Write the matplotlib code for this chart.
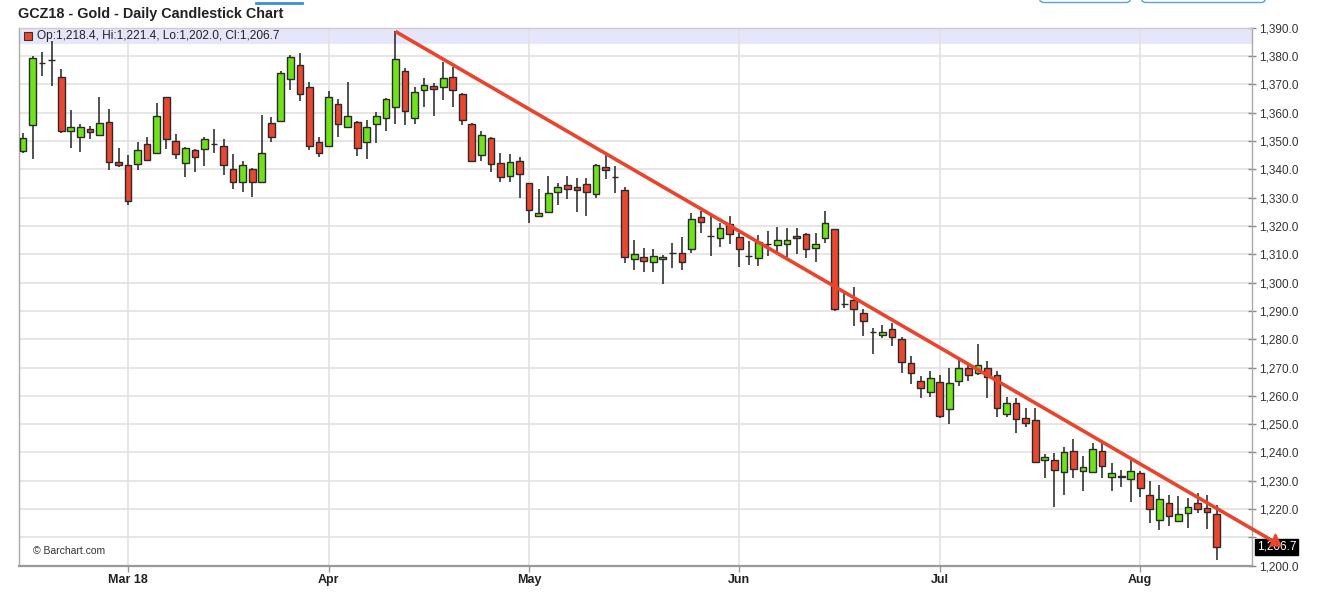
import matplotlib
matplotlib.use('Agg')
import matplotlib.pyplot as plt
from matplotlib.ticker import FixedLocator, FuncFormatter
from matplotlib.lines import Line2D
from matplotlib.patches import Rectangle, Polygon
from matplotlib.transforms import blended_transform_factory

plt.rcParams['font.family'] = ['Liberation Sans', 'DejaVu Sans']

title = "GCZ18 - Gold - Daily Candlestick Chart"
legend_text = "Op:1,218.4, Hi:1,221.4, Lo:1,202.0, Cl:1,206.7"
last_price_label = "1,206.7"
last_price = 1206.7

month_labels = ["Mar 18", "Apr", "May", "Jun", "Jul", "Aug"]
month_starts = [11, 32, 53, 75, 96, 117]

opens = [1346.5, 1355.5, 1377.5, 1378.6, 1372.6, 1353.6, 1351.3, 1354.2, 1352.0, 1356.8,
         1342.5, 1341.5, 1341.8, 1348.9, 1345.7, 1365.5, 1350.1, 1342.2, 1346.9, 1347.3,
         1349.0, 1348.4, 1340.2, 1335.4, 1340.2, 1335.4, 1356.3, 1357.1, 1371.9, 1376.9,
         1369.0, 1349.6, 1348.4, 1363.1, 1354.8, 1356.9, 1349.6, 1356.0, 1358.3, 1361.9,
         1374.9, 1358.3, 1367.9, 1369.3, 1369.0, 1372.6, 1366.7, 1356.0, 1345.1, 1351.0,
         1342.2, 1337.8, 1343.0, 1335.1, 1323.6, 1325.1, 1331.9, 1334.5, 1333.6, 1334.8,
         1331.2, 1340.8, 1337.2, 1332.7, 1308.2, 1308.9, 1307.4, 1308.2, 1310.4, 1310.6,
         1311.8, 1323.0, 1316.5, 1315.7, 1320.6, 1316.0, 1309.4, 1308.6, 1313.5, 1313.3,
         1313.7, 1316.5, 1317.2, 1312.1, 1315.7, 1318.8, 1292.5, 1293.9, 1289.2, 1282.4,
         1281.5, 1283.7, 1280.1, 1271.5, 1265.4, 1261.2, 1265.0, 1255.3, 1265.1, 1269.8,
         1268.0, 1269.8, 1267.2, 1253.6, 1257.6, 1252.1, 1251.3, 1237.4, 1237.4, 1233.2,
         1240.6, 1233.5, 1233.2, 1240.6, 1231.2, 1231.5, 1230.5, 1232.9, 1224.8, 1216.1,
         1222.0, 1215.8, 1218.5, 1222.0, 1220.3, 1218.4]
highs = [1352.8, 1379.9, 1381.3, 1385.5, 1375.4, 1360.8, 1356.1, 1355.4, 1365.5, 1361.3,
         1347.5, 1345.0, 1349.8, 1351.6, 1363.4, 1365.7, 1352.4, 1347.9, 1347.1, 1351.6,
         1354.2, 1350.8, 1345.4, 1343.0, 1340.5, 1359.3, 1358.4, 1374.9, 1380.5, 1381.0,
         1371.0, 1351.3, 1367.5, 1364.8, 1370.7, 1357.0, 1357.5, 1360.1, 1365.1, 1388.7,
         1375.8, 1369.0, 1372.2, 1370.5, 1377.8, 1376.1, 1366.9, 1356.2, 1353.4, 1351.4,
         1345.7, 1345.4, 1344.5, 1335.2, 1333.1, 1337.7, 1335.1, 1337.8, 1337.1, 1337.1,
         1341.8, 1345.1, 1341.2, 1333.7, 1315.1, 1312.1, 1311.8, 1309.8, 1314.1, 1316.2,
         1324.5, 1325.3, 1323.5, 1321.2, 1323.5, 1317.4, 1314.7, 1316.8, 1318.2, 1319.8,
         1319.2, 1319.2, 1317.4, 1317.4, 1325.3, 1319.0, 1296.2, 1298.4, 1290.6, 1284.1,
         1285.1, 1285.7, 1280.9, 1273.9, 1267.0, 1268.6, 1267.2, 1270.0, 1272.7, 1271.0,
         1278.3, 1272.4, 1268.6, 1259.5, 1259.2, 1255.6, 1255.6, 1239.5, 1239.7, 1241.8,
         1244.7, 1238.8, 1243.5, 1243.5, 1236.4, 1233.8, 1237.4, 1233.6, 1230.0, 1228.5,
         1225.0, 1224.7, 1223.8, 1225.6, 1225.0, 1221.4]
lows = [1345.9, 1343.7, 1372.8, 1369.6, 1353.0, 1347.5, 1346.0, 1350.7, 1351.8, 1339.6,
        1340.8, 1327.5, 1339.6, 1342.8, 1345.5, 1347.1, 1343.6, 1337.2, 1338.9, 1341.2,
        1345.7, 1338.1, 1333.0, 1331.9, 1330.2, 1335.2, 1349.5, 1357.0, 1367.9, 1364.2,
        1346.9, 1344.3, 1348.2, 1351.6, 1354.6, 1344.8, 1343.6, 1349.3, 1353.4, 1356.1,
        1355.5, 1356.0, 1362.2, 1359.0, 1364.6, 1362.2, 1355.7, 1342.5, 1343.1, 1338.9,
        1335.4, 1335.4, 1329.8, 1321.2, 1323.5, 1325.0, 1327.5, 1329.5, 1325.1, 1323.6,
        1329.8, 1336.5, 1331.8, 1306.8, 1304.5, 1303.6, 1303.6, 1299.4, 1305.3, 1304.5,
        1310.6, 1317.4, 1309.5, 1312.7, 1313.5, 1305.6, 1306.2, 1306.0, 1309.5, 1310.9,
        1309.2, 1310.0, 1308.6, 1307.1, 1313.9, 1290.0, 1291.2, 1284.7, 1281.2, 1274.8,
        1280.4, 1277.6, 1268.2, 1264.2, 1259.1, 1259.5, 1252.1, 1250.0, 1263.5, 1265.1,
        1267.4, 1259.2, 1252.7, 1252.4, 1246.8, 1248.9, 1236.4, 1230.9, 1220.6, 1225.0,
        1230.9, 1226.5, 1232.9, 1231.1, 1226.4, 1227.7, 1222.6, 1224.4, 1215.2, 1212.6,
        1214.0, 1215.3, 1213.2, 1218.5, 1212.8, 1202.0]
closes = [1351.2, 1379.3, 1377.5, 1378.6, 1353.7, 1354.9, 1355.1, 1353.1, 1356.4, 1342.5,
          1341.7, 1328.7, 1346.9, 1343.4, 1358.8, 1350.8, 1345.4, 1347.7, 1344.5, 1350.8,
          1349.0, 1341.4, 1335.7, 1341.4, 1335.4, 1345.7, 1351.6, 1374.2, 1379.6, 1366.7,
          1348.4, 1345.7, 1365.5, 1356.0, 1358.7, 1347.4, 1354.8, 1358.7, 1364.8, 1378.9,
          1360.7, 1367.2, 1369.9, 1368.3, 1372.2, 1367.9, 1357.3, 1343.0, 1352.0, 1341.8,
          1337.2, 1342.5, 1338.3, 1325.7, 1324.5, 1331.6, 1333.6, 1333.1, 1332.8, 1331.9,
          1341.6, 1339.8, 1337.2, 1308.9, 1310.1, 1307.8, 1309.4, 1308.9, 1310.4, 1307.4,
          1322.4, 1321.5, 1316.5, 1319.2, 1317.1, 1311.8, 1309.4, 1314.5, 1313.5, 1315.1,
          1315.1, 1315.7, 1311.8, 1313.7, 1321.0, 1290.7, 1292.5, 1290.7, 1286.5, 1282.4,
          1282.5, 1280.9, 1271.9, 1268.0, 1262.7, 1266.2, 1252.9, 1264.7, 1269.8, 1267.2,
          1271.0, 1266.5, 1255.6, 1257.6, 1251.7, 1250.3, 1236.8, 1238.3, 1233.8, 1240.3,
          1234.2, 1234.8, 1241.1, 1235.2, 1232.9, 1231.5, 1233.6, 1227.6, 1220.0, 1223.4,
          1217.7, 1218.2, 1220.9, 1219.9, 1219.1, 1206.7]

trend_x = [39, 131.0]
trend_y = [1388.7, 1208.5]
arrow_head_x = [131.16, 130.58, 131.74]
arrow_head_y = [1211.2, 1206.96, 1206.96]

W, H = 1330, 598
fig = plt.figure(figsize=(W / 100, H / 100), dpi=100)
ax_l, ax_r, ax_t, ax_b = 19, 1252, 27.8, 565.7
ax = fig.add_axes([ax_l / W, 1 - ax_b / H, (ax_r - ax_l) / W, (ax_b - ax_t) / H])

GREEN = '#6FE21C'
RED = '#E9472F'
EDGE = '#2a2a2a'
TREND = '#E8452C'

n = len(opens)
xs = list(range(n))
ax.vlines(xs, lows, highs, color='#333333', lw=1.2, zorder=2)
bottoms = [min(o, c) for o, c in zip(opens, closes)]
heights = [max(abs(c - o), 0.05) for o, c in zip(opens, closes)]
colors = [GREEN if c >= o else RED for o, c in zip(opens, closes)]
ax.bar(xs, heights, bottom=bottoms, width=0.7, color=colors, edgecolor=EDGE,
       linewidth=1.0, zorder=3)

ax.set_xlim(-0.42, 128.7)
ax.set_ylim(1200, 1390)

# legend band
ax.axhspan(1384.3, 1390, color='#E6E6FA', zorder=0.1, lw=0)

# grid
ax.set_axisbelow(True)
ax.yaxis.set_major_locator(FixedLocator(list(range(1200, 1391, 10))))
# the 1,210.0 label is hidden behind the last-price box in the original
ax.yaxis.set_major_formatter(FuncFormatter(lambda v, p: '' if abs(v - 1210) < 1e-6 else f"{v:,.1f}"))
ax.grid(True, axis='both', color='#E2E2E2', lw=1.2)

ax.set_xticks(month_starts)
ax.set_xticklabels(month_labels, fontweight='bold', fontsize=9, color='#222222')
ax.tick_params(axis='x', direction='out', length=4, width=1, color='#999999', pad=2)

ax.yaxis.tick_right()
ax.tick_params(axis='y', direction='inout', length=6, width=1, color='#888888',
               labelcolor='#333333', labelsize=8.5, pad=2)

for s in ['left', 'right', 'top']:
    ax.spines[s].set_color('#AAAAAA')
    ax.spines[s].set_linewidth(1)
ax.spines['top'].set_color('#CCCCCC')
ax.spines['bottom'].set_color('#999999')
ax.spines['bottom'].set_linewidth(1.6)

# last price box
tr = blended_transform_factory(ax.transAxes, ax.transData)
ax.text(1.0038, last_price, last_price_label, transform=tr, color='white',
        fontsize=8.5, va='center', ha='left', zorder=5, clip_on=False,
        bbox=dict(boxstyle='square,pad=0.15', facecolor='black', edgecolor='black'))

# trend line with arrow head
ax.plot(trend_x, trend_y, color=TREND, lw=2.6, solid_capstyle='butt',
        zorder=6, clip_on=False)
ax.add_patch(Polygon(list(zip(arrow_head_x, arrow_head_y)), closed=True,
                     facecolor=TREND, edgecolor=TREND, lw=1, zorder=7, clip_on=False))

# title
fig.text(18 / W, 1 - 14 / H, title, fontsize=10.4, fontweight='bold',
         color='#222222', va='center', ha='left')

# legend marker + text
fig.patches.append(Rectangle((24 / W, 1 - 40 / H), 7.5 / W, 7.5 / H,
                             transform=fig.transFigure, facecolor=RED,
                             edgecolor='#333333', lw=0.8, figure=fig))
fig.text(37 / W, 1 - 36 / H, legend_text, fontsize=8.6, color='#222222',
         va='center', ha='left')

# watermark
fig.text(33 / W, 1 - 551 / H, '\u00a9 Barchart.com', fontsize=7.5,
         color='#333333', va='center', ha='left')

# partial UI elements at top edge
fig.add_artist(Line2D([256 / W, 302 / W], [1 - 2.5 / H, 1 - 2.5 / H],
                      transform=fig.transFigure, color='#3A8DDE', lw=2))
for x0, x1 in [(1040, 1130), (1142, 1265)]:
    fig.add_artist(Line2D([x0 / W, x0 / W, (x0 + 3) / W, (x1 - 3) / W, x1 / W, x1 / W],
                          [1.0, 1 - 1 / H, 1 - 2.5 / H, 1 - 2.5 / H, 1 - 1 / H, 1.0],
                          transform=fig.transFigure, color='#5A9FE0', lw=1))

fig.savefig('out.png', dpi=100)
